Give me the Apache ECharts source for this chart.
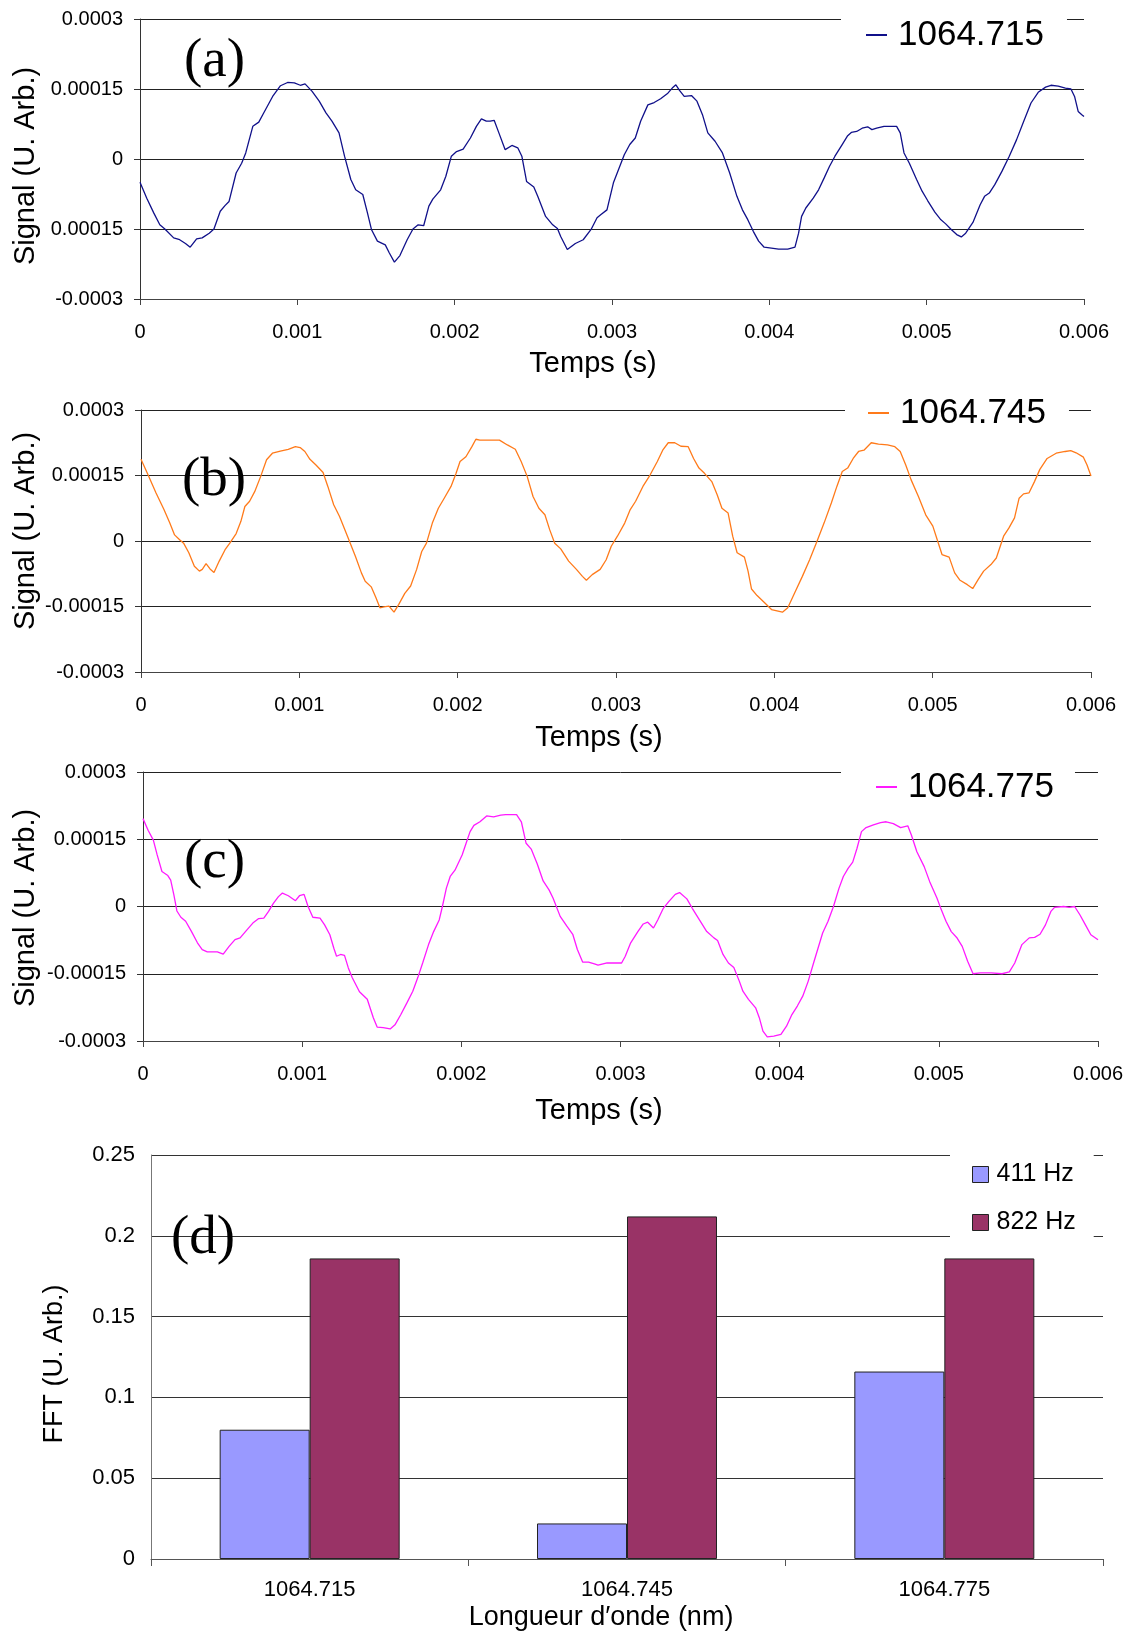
<!DOCTYPE html>
<html>
<head>
<meta charset="utf-8">
<script src="https://cdn.jsdelivr.net/npm/echarts@6/dist/echarts.min.js"></script>
<style>
html,body{margin:0;padding:0;background:#fff;}
#chart{width:1128px;height:1632px;}
</style>
</head>
<body>
<div id="chart"></div>
<script>
// ---------- DATA ----------
const xTickLabels = ['0', '0.001', '0.002', '0.003', '0.004', '0.005', '0.006'];
const yTickLabelsA = ['-0.0003', '0.00015', '0', '0.00015', '0.0003'];
const yTickLabelsB = ['-0.0003', '-0.00015', '0', '0.00015', '0.0003'];
const yTickLabelsC = ['-0.0003', '-0.00015', '0', '0.00015', '0.0003'];
const fftTickLabels = ['0', '0.05', '0.1', '0.15', '0.2', '0.25'];

const seriesNames = ['1064.715', '1064.745', '1064.775'];

// [time (s), signal (arb.)]
const signal1064_715 = [
[0,-0.50e-4],[0.043e-3,-0.84e-4],[0.088e-3,-1.16e-4],[0.126e-3,-1.41e-4],[0.158e-3,-1.50e-4],[0.214e-3,-1.69e-4],
[0.252e-3,-1.73e-4],[0.289e-3,-1.81e-4],[0.319e-3,-1.89e-4],[0.360e-3,-1.71e-4],[0.395e-3,-1.69e-4],[0.440e-3,-1.59e-4],
[0.470e-3,-1.50e-4],[0.510e-3,-1.12e-4],[0.540e-3,-1.00e-4],[0.566e-3,-0.91e-4],[0.611e-3,-0.30e-4],[0.646e-3,-0.09e-4],
[0.672e-3,0.13e-4],[0.717e-3,0.70e-4],[0.755e-3,0.79e-4],[0.787e-3,0.99e-4],[0.843e-3,1.34e-4],[0.893e-3,1.57e-4],
[0.938e-3,1.64e-4],[0.981e-3,1.63e-4],[1.019e-3,1.58e-4],[1.049e-3,1.61e-4],[1.094e-3,1.45e-4],[1.139e-3,1.24e-4],
[1.182e-3,0.99e-4],[1.220e-3,0.81e-4],[1.265e-3,0.56e-4],[1.300e-3,0.06e-4],[1.340e-3,-0.44e-4],[1.371e-3,-0.66e-4],
[1.416e-3,-0.76e-4],[1.446e-3,-1.16e-4],[1.471e-3,-1.51e-4],[1.509e-3,-1.76e-4],[1.559e-3,-1.84e-4],[1.584e-3,-2.01e-4],
[1.617e-3,-2.21e-4],[1.652e-3,-2.07e-4],[1.698e-3,-1.73e-4],[1.735e-3,-1.50e-4],[1.768e-3,-1.41e-4],[1.803e-3,-1.43e-4],
[1.836e-3,-1.01e-4],[1.861e-3,-0.86e-4],[1.911e-3,-0.66e-4],[1.944e-3,-0.37e-4],[1.979e-3,0.06e-4],[2.012e-3,0.16e-4],
[2.054e-3,0.21e-4],[2.100e-3,0.45e-4],[2.138e-3,0.70e-4],[2.170e-3,0.86e-4],[2.201e-3,0.81e-4],[2.226e-3,0.81e-4],
[2.251e-3,0.83e-4],[2.281e-3,0.56e-4],[2.321e-3,0.20e-4],[2.364e-3,0.29e-4],[2.401e-3,0.24e-4],[2.427e-3,0.06e-4],
[2.457e-3,-0.48e-4],[2.503e-3,-0.60e-4],[2.528e-3,-0.80e-4],[2.578e-3,-1.23e-4],[2.623e-3,-1.41e-4],[2.653e-3,-1.49e-4],
[2.674e-3,-1.66e-4],[2.716e-3,-1.94e-4],[2.767e-3,-1.81e-4],[2.817e-3,-1.73e-4],[2.867e-3,-1.51e-4],[2.905e-3,-1.26e-4],
[2.930e-3,-1.19e-4],[2.968e-3,-1.09e-4],[3.009e-3,-0.51e-4],[3.078e-3,0.09e-4],[3.113e-3,0.31e-4],[3.148e-3,0.45e-4],
[3.182e-3,0.81e-4],[3.228e-3,1.16e-4],[3.268e-3,1.21e-4],[3.309e-3,1.29e-4],[3.355e-3,1.41e-4],[3.383e-3,1.52e-4],
[3.406e-3,1.59e-4],[3.429e-3,1.47e-4],[3.459e-3,1.34e-4],[3.505e-3,1.36e-4],[3.540e-3,1.24e-4],[3.575e-3,0.95e-4],
[3.609e-3,0.56e-4],[3.655e-3,0.38e-4],[3.702e-3,0.13e-4],[3.748e-3,-0.30e-4],[3.794e-3,-0.80e-4],[3.829e-3,-1.09e-4],
[3.863e-3,-1.30e-4],[3.898e-3,-1.55e-4],[3.932e-3,-1.76e-4],[3.967e-3,-1.89e-4],[4.013e-3,-1.91e-4],[4.059e-3,-1.93e-4],
[4.117e-3,-1.93e-4],[4.163e-3,-1.89e-4],[4.186e-3,-1.59e-4],[4.205e-3,-1.23e-4],[4.232e-3,-1.05e-4],[4.279e-3,-0.84e-4],
[4.313e-3,-0.66e-4],[4.348e-3,-0.41e-4],[4.382e-3,-0.16e-4],[4.417e-3,0.06e-4],[4.463e-3,0.31e-4],[4.498e-3,0.50e-4],
[4.521e-3,0.57e-4],[4.555e-3,0.59e-4],[4.590e-3,0.66e-4],[4.625e-3,0.69e-4],[4.652e-3,0.63e-4],[4.682e-3,0.66e-4],
[4.729e-3,0.70e-4],[4.809e-3,0.70e-4],[4.832e-3,0.56e-4],[4.856e-3,0.13e-4],[4.890e-3,-0.09e-4],[4.936e-3,-0.44e-4],
[4.971e-3,-0.69e-4],[5.006e-3,-0.89e-4],[5.052e-3,-1.14e-4],[5.087e-3,-1.29e-4],[5.121e-3,-1.39e-4],[5.156e-3,-1.51e-4],
[5.191e-3,-1.62e-4],[5.220e-3,-1.67e-4],[5.248e-3,-1.59e-4],[5.294e-3,-1.36e-4],[5.340e-3,-0.98e-4],[5.368e-3,-0.80e-4],
[5.398e-3,-0.73e-4],[5.433e-3,-0.55e-4],[5.479e-3,-0.26e-4],[5.525e-3,0.06e-4],[5.571e-3,0.41e-4],[5.617e-3,0.81e-4],
[5.663e-3,1.20e-4],[5.709e-3,1.43e-4],[5.756e-3,1.54e-4],[5.790e-3,1.58e-4],[5.836e-3,1.56e-4],[5.882e-3,1.52e-4],
[5.917e-3,1.50e-4],[5.940e-3,1.34e-4],[5.963e-3,1.02e-4],[5.986e-3,0.95e-4],[6.000e-3,0.91e-4]
];

const signal1064_745 = [
[0,1.87e-4],[0.045e-3,1.51e-4],[0.095e-3,1.10e-4],[0.145e-3,0.72e-4],[0.182e-3,0.41e-4],[0.212e-3,0.14e-4],
[0.244e-3,0.03e-4],[0.269e-3,-0.05e-4],[0.302e-3,-0.27e-4],[0.337e-3,-0.58e-4],[0.369e-3,-0.69e-4],[0.387e-3,-0.65e-4],
[0.411e-3,-0.52e-4],[0.436e-3,-0.64e-4],[0.461e-3,-0.72e-4],[0.494e-3,-0.46e-4],[0.531e-3,-0.20e-4],[0.561e-3,-0.05e-4],
[0.601e-3,0.17e-4],[0.631e-3,0.45e-4],[0.656e-3,0.79e-4],[0.686e-3,0.91e-4],[0.718e-3,1.13e-4],[0.756e-3,1.48e-4],
[0.793e-3,1.86e-4],[0.830e-3,2.01e-4],[0.880e-3,2.06e-4],[0.930e-3,2.10e-4],[0.975e-3,2.16e-4],[1.005e-3,2.14e-4],
[1.035e-3,2.05e-4],[1.067e-3,1.87e-4],[1.105e-3,1.74e-4],[1.150e-3,1.57e-4],[1.180e-3,1.25e-4],[1.217e-3,0.83e-4],
[1.254e-3,0.56e-4],[1.304e-3,0.11e-4],[1.354e-3,-0.35e-4],[1.392e-3,-0.73e-4],[1.416e-3,-0.92e-4],[1.454e-3,-1.05e-4],
[1.484e-3,-1.30e-4],[1.509e-3,-1.53e-4],[1.534e-3,-1.51e-4],[1.566e-3,-1.49e-4],[1.598e-3,-1.63e-4],[1.628e-3,-1.45e-4],
[1.666e-3,-1.20e-4],[1.703e-3,-1.03e-4],[1.741e-3,-0.65e-4],[1.773e-3,-0.24e-4],[1.803e-3,-0.05e-4],[1.840e-3,0.41e-4],
[1.878e-3,0.75e-4],[1.915e-3,0.98e-4],[1.958e-3,1.25e-4],[1.990e-3,1.55e-4],[2.015e-3,1.82e-4],[2.052e-3,1.93e-4],
[2.090e-3,2.16e-4],[2.115e-3,2.33e-4],[2.140e-3,2.31e-4],[2.264e-3,2.31e-4],[2.314e-3,2.20e-4],[2.364e-3,2.10e-4],
[2.401e-3,1.82e-4],[2.439e-3,1.48e-4],[2.476e-3,1.02e-4],[2.513e-3,0.75e-4],[2.551e-3,0.60e-4],[2.581e-3,0.26e-4],
[2.613e-3,-0.05e-4],[2.651e-3,-0.18e-4],[2.701e-3,-0.46e-4],[2.750e-3,-0.65e-4],[2.788e-3,-0.81e-4],[2.813e-3,-0.90e-4],
[2.850e-3,-0.77e-4],[2.900e-3,-0.65e-4],[2.938e-3,-0.43e-4],[2.970e-3,-0.12e-4],[3.009e-3,0.11e-4],[3.055e-3,0.41e-4],
[3.090e-3,0.72e-4],[3.124e-3,0.91e-4],[3.170e-3,1.25e-4],[3.215e-3,1.51e-4],[3.261e-3,1.82e-4],[3.295e-3,2.08e-4],
[3.330e-3,2.25e-4],[3.371e-3,2.25e-4],[3.410e-3,2.17e-4],[3.456e-3,2.16e-4],[3.490e-3,1.89e-4],[3.524e-3,1.67e-4],
[3.559e-3,1.55e-4],[3.605e-3,1.36e-4],[3.639e-3,1.06e-4],[3.669e-3,0.75e-4],[3.708e-3,0.64e-4],[3.737e-3,0.11e-4],
[3.765e-3,-0.27e-4],[3.811e-3,-0.37e-4],[3.834e-3,-0.69e-4],[3.856e-3,-1.10e-4],[3.891e-3,-1.25e-4],[3.937e-3,-1.41e-4],
[3.982e-3,-1.57e-4],[4.017e-3,-1.60e-4],[4.051e-3,-1.63e-4],[4.085e-3,-1.53e-4],[4.131e-3,-1.17e-4],[4.177e-3,-0.81e-4],
[4.223e-3,-0.43e-4],[4.269e-3,-0.01e-4],[4.314e-3,0.41e-4],[4.360e-3,0.87e-4],[4.395e-3,1.25e-4],[4.429e-3,1.59e-4],
[4.463e-3,1.67e-4],[4.498e-3,1.89e-4],[4.532e-3,2.05e-4],[4.566e-3,2.08e-4],[4.612e-3,2.25e-4],[4.658e-3,2.22e-4],
[4.715e-3,2.20e-4],[4.761e-3,2.16e-4],[4.795e-3,2.05e-4],[4.830e-3,1.74e-4],[4.864e-3,1.40e-4],[4.910e-3,1.02e-4],
[4.956e-3,0.60e-4],[5.001e-3,0.34e-4],[5.036e-3,-0.05e-4],[5.059e-3,-0.31e-4],[5.104e-3,-0.37e-4],[5.139e-3,-0.73e-4],
[5.173e-3,-0.90e-4],[5.219e-3,-1.00e-4],[5.253e-3,-1.09e-4],[5.288e-3,-0.88e-4],[5.322e-3,-0.69e-4],[5.368e-3,-0.54e-4],
[5.402e-3,-0.39e-4],[5.448e-3,0.11e-4],[5.482e-3,0.30e-4],[5.517e-3,0.53e-4],[5.546e-3,0.98e-4],[5.574e-3,1.08e-4],
[5.608e-3,1.10e-4],[5.643e-3,1.36e-4],[5.677e-3,1.64e-4],[5.723e-3,1.89e-4],[5.780e-3,2.01e-4],[5.837e-3,2.05e-4],
[5.872e-3,2.07e-4],[5.906e-3,2.02e-4],[5.952e-3,1.92e-4],[5.975e-3,1.74e-4],[6.000e-3,1.49e-4]
];

const signal1064_775 = [
[0,1.96e-4],[0.032e-3,1.70e-4],[0.065e-3,1.48e-4],[0.089e-3,1.15e-4],[0.119e-3,0.78e-4],[0.156e-3,0.69e-4],
[0.174e-3,0.59e-4],[0.194e-3,0.26e-4],[0.213e-3,-0.10e-4],[0.238e-3,-0.24e-4],[0.268e-3,-0.33e-4],[0.305e-3,-0.56e-4],
[0.342e-3,-0.81e-4],[0.372e-3,-0.96e-4],[0.404e-3,-1.01e-4],[0.467e-3,-1.01e-4],[0.504e-3,-1.06e-4],[0.541e-3,-0.89e-4],
[0.578e-3,-0.74e-4],[0.610e-3,-0.70e-4],[0.653e-3,-0.52e-4],[0.690e-3,-0.37e-4],[0.727e-3,-0.27e-4],[0.759e-3,-0.26e-4],
[0.789e-3,-0.11e-4],[0.819e-3,0.07e-4],[0.851e-3,0.22e-4],[0.876e-3,0.30e-4],[0.913e-3,0.24e-4],[0.958e-3,0.13e-4],
[0.983e-3,0.24e-4],[1.012e-3,0.27e-4],[1.037e-3,0.00],[1.067e-3,-0.24e-4],[1.112e-3,-0.26e-4],[1.141e-3,-0.41e-4],
[1.174e-3,-0.63e-4],[1.199e-3,-0.93e-4],[1.216e-3,-1.11e-4],[1.241e-3,-1.07e-4],[1.266e-3,-1.09e-4],[1.290e-3,-1.37e-4],
[1.315e-3,-1.59e-4],[1.360e-3,-1.90e-4],[1.409e-3,-2.07e-4],[1.447e-3,-2.48e-4],[1.471e-3,-2.69e-4],[1.509e-3,-2.70e-4],
[1.553e-3,-2.73e-4],[1.583e-3,-2.64e-4],[1.620e-3,-2.41e-4],[1.658e-3,-2.15e-4],[1.695e-3,-1.89e-4],[1.727e-3,-1.58e-4],
[1.757e-3,-1.26e-4],[1.794e-3,-0.85e-4],[1.826e-3,-0.56e-4],[1.861e-3,-0.30e-4],[1.881e-3,0.00],[1.906e-3,0.41e-4],
[1.930e-3,0.67e-4],[1.960e-3,0.81e-4],[2.005e-3,1.15e-4],[2.030e-3,1.41e-4],[2.055e-3,1.67e-4],[2.079e-3,1.81e-4],
[2.117e-3,1.89e-4],[2.159e-3,2.02e-4],[2.203e-3,2.00e-4],[2.248e-3,2.04e-4],[2.278e-3,2.05e-4],[2.347e-3,2.05e-4],
[2.377e-3,1.89e-4],[2.407e-3,1.41e-4],[2.439e-3,1.28e-4],[2.476e-3,0.96e-4],[2.514e-3,0.57e-4],[2.551e-3,0.37e-4],
[2.576e-3,0.19e-4],[2.621e-3,-0.22e-4],[2.663e-3,-0.44e-4],[2.700e-3,-0.62e-4],[2.729e-3,-0.96e-4],[2.762e-3,-1.24e-4],
[2.799e-3,-1.24e-4],[2.836e-3,-1.28e-4],[2.859e-3,-1.31e-4],[2.916e-3,-1.26e-4],[3.007e-3,-1.26e-4],[3.030e-3,-1.11e-4],
[3.064e-3,-0.81e-4],[3.109e-3,-0.56e-4],[3.143e-3,-0.39e-4],[3.171e-3,-0.35e-4],[3.207e-3,-0.48e-4],[3.234e-3,-0.30e-4],
[3.269e-3,-0.04e-4],[3.303e-3,0.11e-4],[3.344e-3,0.27e-4],[3.371e-3,0.31e-4],[3.417e-3,0.17e-4],[3.451e-3,-0.04e-4],
[3.496e-3,-0.30e-4],[3.542e-3,-0.56e-4],[3.587e-3,-0.70e-4],[3.610e-3,-0.76e-4],[3.644e-3,-1.07e-4],[3.678e-3,-1.26e-4],
[3.712e-3,-1.36e-4],[3.747e-3,-1.67e-4],[3.769e-3,-1.89e-4],[3.804e-3,-2.07e-4],[3.849e-3,-2.26e-4],[3.872e-3,-2.48e-4],
[3.895e-3,-2.78e-4],[3.922e-3,-2.91e-4],[3.963e-3,-2.89e-4],[4.008e-3,-2.85e-4],[4.043e-3,-2.67e-4],[4.077e-3,-2.41e-4],
[4.111e-3,-2.22e-4],[4.145e-3,-2.00e-4],[4.179e-3,-1.67e-4],[4.213e-3,-1.26e-4],[4.241e-3,-0.93e-4],[4.270e-3,-0.59e-4],
[4.304e-3,-0.33e-4],[4.338e-3,0.00],[4.373e-3,0.41e-4],[4.400e-3,0.67e-4],[4.430e-3,0.85e-4],[4.459e-3,0.99e-4],
[4.486e-3,1.30e-4],[4.514e-3,1.67e-4],[4.543e-3,1.76e-4],[4.589e-3,1.82e-4],[4.634e-3,1.87e-4],[4.669e-3,1.89e-4],
[4.714e-3,1.85e-4],[4.760e-3,1.76e-4],[4.805e-3,1.80e-4],[4.828e-3,1.59e-4],[4.862e-3,1.22e-4],[4.908e-3,0.89e-4],
[4.942e-3,0.56e-4],[4.988e-3,0.19e-4],[5.010e-3,-0.02e-4],[5.045e-3,-0.33e-4],[5.078e-3,-0.56e-4],[5.112e-3,-0.69e-4],
[5.147e-3,-0.89e-4],[5.181e-3,-1.22e-4],[5.215e-3,-1.50e-4],[5.260e-3,-1.48e-4],[5.329e-3,-1.48e-4],[5.397e-3,-1.50e-4],
[5.443e-3,-1.46e-4],[5.477e-3,-1.26e-4],[5.522e-3,-0.85e-4],[5.568e-3,-0.70e-4],[5.602e-3,-0.69e-4],[5.636e-3,-0.62e-4],
[5.670e-3,-0.41e-4],[5.704e-3,-0.11e-4],[5.727e-3,-0.02e-4],[5.784e-3,0.00],[5.819e-3,-0.02e-4],[5.853e-3,0.00],
[5.887e-3,-0.19e-4],[5.921e-3,-0.41e-4],[5.955e-3,-0.63e-4],[6.000e-3,-0.74e-4]
];

const fftCategories = ['1064.715', '1064.745', '1064.775'];
const fftSeriesNames = ['411 Hz', '822 Hz'];
const fft411Hz = [0.080, 0.022, 0.116];
const fft822Hz = [0.186, 0.212, 0.186];

// ---------- CHART ----------
const FONT = '"Liberation Sans", Arial, sans-serif';
const chart = echarts.init(document.getElementById('chart'), null, {renderer: 'canvas'});

const grids = [
  {left: 140, top: 19, width: 944, height: 280},
  {left: 141, top: 410, width: 950, height: 262},
  {left: 143, top: 772, width: 955, height: 269},
  {left: 151, top: 1155, width: 952, height: 404}
];
const yLabelSets = [yTickLabelsA, yTickLabelsB, yTickLabelsC];
const lineColors = ['#10108a', '#ff7a1a', '#ff1aff'];
const lineData = [signal1064_715, signal1064_745, signal1064_775];

const xAxes = [], yAxes = [], series = [], legends = [];
for (let i = 0; i < 3; i++) {
  xAxes.push({
    type: 'value', gridIndex: i, min: 0, max: 0.006, interval: 0.001,
    axisLine: {show: true, onZero: false, lineStyle: {color: '#444', width: 1}},
    axisTick: {show: true, length: 6, lineStyle: {color: '#444'}},
    splitLine: {show: false},
    axisLabel: {
      fontFamily: FONT, fontSize: 20, color: '#000', margin: 23,
      formatter: (v) => xTickLabels[Math.round(v / 0.001)]
    }
  });
  const labs = yLabelSets[i];
  yAxes.push({
    type: 'value', gridIndex: i, min: -0.0003, max: 0.0003, interval: 0.00015,
    axisLine: {show: true, lineStyle: {color: '#333', width: 1}},
    axisTick: {show: true, length: 6, lineStyle: {color: '#333'}},
    splitLine: {show: true, lineStyle: {color: '#222', width: 1}},
    axisLabel: {
      fontFamily: FONT, fontSize: 20, color: '#000', margin: 17,
      formatter: (v) => labs[Math.round((v + 0.0003) / 0.00015)]
    }
  });
  series.push({
    name: seriesNames[i], type: 'line', xAxisIndex: i, yAxisIndex: i,
    data: lineData[i], showSymbol: false, symbol: 'none', smooth: false,
    color: lineColors[i], z: 5,
    lineStyle: {color: lineColors[i], width: 1.3},
    animation: false
  });
}

xAxes.push({
  type: 'category', gridIndex: 3, data: fftCategories, boundaryGap: true,
  axisLine: {show: true, lineStyle: {color: '#555', width: 1}},
  axisTick: {show: true, length: 7, alignWithLabel: false, lineStyle: {color: '#555'}},
  axisLabel: {fontFamily: FONT, fontSize: 22, color: '#000', margin: 20}
});
yAxes.push({
  type: 'value', gridIndex: 3, min: 0, max: 0.25, interval: 0.05,
  axisLine: {show: true, lineStyle: {color: '#777', width: 1}},
  axisTick: {show: false},
  splitLine: {show: true, lineStyle: {color: '#333', width: 1}},
  axisLabel: {
    fontFamily: FONT, fontSize: 22, color: '#000', margin: 16,
    formatter: (v) => fftTickLabels[Math.round(v / 0.05)]
  }
});
series.push({
  name: fftSeriesNames[0], type: 'bar', xAxisIndex: 3, yAxisIndex: 3,
  data: fft411Hz, barWidth: 90, barGap: '0%', color: '#9999ff',
  itemStyle: {color: '#9999ff', borderColor: '#222', borderWidth: 1}, animation: false
});
series.push({
  name: fftSeriesNames[1], type: 'bar', xAxisIndex: 3, yAxisIndex: 3,
  data: fft822Hz, barWidth: 90, barGap: '0%', color: '#993366',
  itemStyle: {color: '#993366', borderColor: '#222', borderWidth: 1}, animation: false
});

const legendBase = {
  orient: 'horizontal', backgroundColor: '#fff', icon: 'rect', z: 1,
  itemWidth: 21, itemHeight: 2, selectedMode: false,
  textStyle: {fontFamily: FONT, fontSize: 35, color: '#000', lineHeight: 40, padding: [0, 0, 0, 6]}
};
legends.push(Object.assign({}, legendBase, {data: [seriesNames[0]], left: 841, top: 2, padding: [13, 23, 6, 25]}));
legends.push(Object.assign({}, legendBase, {data: [seriesNames[1]], left: 845, top: 380, padding: [13, 23, 4, 23]}));
legends.push(Object.assign({}, legendBase, {data: [seriesNames[2]], left: 841, top: 754, padding: [13, 21, 6, 35]}));
legends.push({
  data: fftSeriesNames, orient: 'vertical', left: 950, top: 1148, z: 1,
  padding: [14, 18, 14, 22], backgroundColor: '#fff', icon: 'rect',
  itemWidth: 16, itemHeight: 16, itemGap: 23, selectedMode: false,
  itemStyle: {borderColor: '#222', borderWidth: 1},
  textStyle: {fontFamily: FONT, fontSize: 25, color: '#000', lineHeight: 25, padding: [0, 0, 0, 3]}
});

function txt(text, x, y, size, opts) {
  return Object.assign({
    type: 'text', x: x, y: y, silent: true,
    style: {text: text, fill: '#000', font: size + 'px ' + FONT, align: 'center', verticalAlign: 'middle'}
  }, opts || {});
}
function vtxt(text, x, y, size) {
  return {
    type: 'text', x: x, y: y, rotation: Math.PI / 2, silent: true,
    style: {text: text, fill: '#000', font: size + 'px ' + FONT, align: 'center', verticalAlign: 'middle'}
  };
}
function panelLabel(text, x, y) {
  return {
    type: 'text', x: x, y: y, silent: true, z: 100,
    style: {text: text, fill: '#000', font: '55px "Liberation Serif", "Times New Roman", serif', align: 'left', verticalAlign: 'middle'}
  };
}

const graphics = [
  vtxt('Signal (U. Arb.)', 26, 166, 29),
  vtxt('Signal (U. Arb.)', 26, 531, 29),
  vtxt('Signal (U. Arb.)', 26, 908, 29),
  txt('Temps (s)', 593, 364, 29),
  txt('Temps (s)', 599, 738, 29),
  txt('Temps (s)', 599, 1111, 29),
  vtxt('FFT (U. Arb.)', 55, 1364, 27),
  txt('Longueur d′onde (nm)', 601, 1618, 27),
  panelLabel('(a)', 184, 62),
  panelLabel('(b)', 182, 481),
  panelLabel('(c)', 184, 863),
  panelLabel('(d)', 171, 1239)
];

chart.setOption({
  backgroundColor: '#fff',
  animation: false,
  grid: grids,
  xAxis: xAxes,
  yAxis: yAxes,
  legend: legends,
  series: series,
  graphic: graphics
});
</script>
</body>
</html>
